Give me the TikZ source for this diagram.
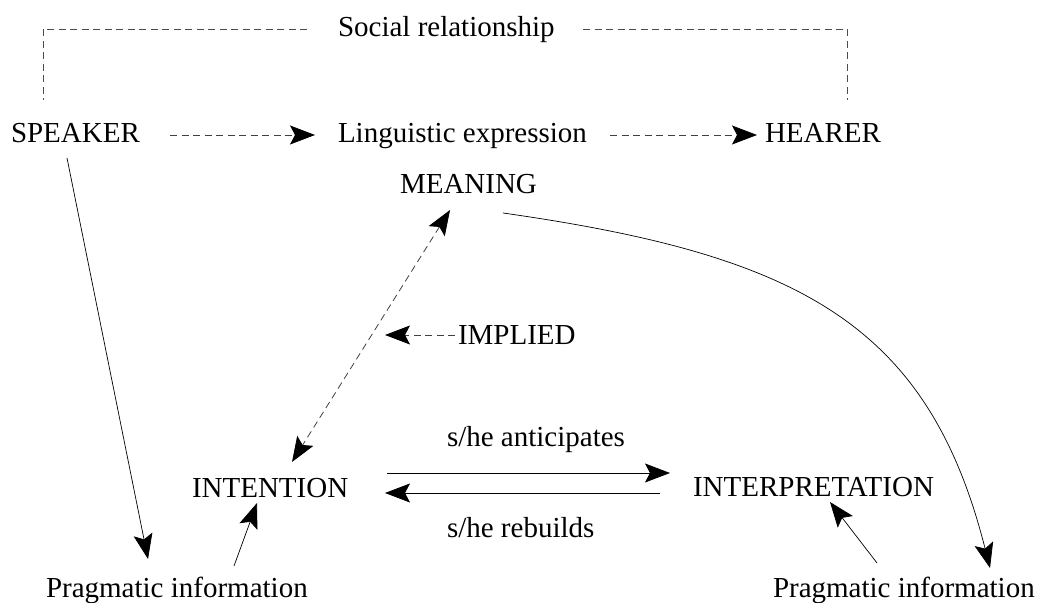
\documentclass[tikz,border=0pt]{standalone}
\usepackage{fontspec}
\setmainfont{Liberation Serif}
\usetikzlibrary{arrows.meta}
\begin{document}
\begin{tikzpicture}[x=1pt,y=1pt,
  lbl/.style={inner sep=0pt,outer sep=0pt,anchor=base west,font=\fontsize{29}{34}\selectfont},
  tipstyle/.style={-{Stealth[length=25pt,width=19pt,inset=5pt,color=black]}},
  arr/.style={tipstyle,line width=0.7pt,black},
  darr/.style={tipstyle,line width=0.8pt,black!75,dash pattern=on 7pt off 4.5pt},
  dline/.style={line width=0.8pt,black!70,dash pattern=on 7pt off 4.5pt},
  ddarr/.style={{Stealth[length=25pt,width=19pt,inset=5pt,color=black]}-{Stealth[length=25pt,width=19pt,inset=5pt,color=black]},line width=0.8pt,black!75,dash pattern=on 7pt off 4.5pt}]
\useasboundingbox (0,0) rectangle (1040,602);
% nodes
\node[lbl] (soc)   at (338,565) {Social relationship};
\node[lbl] (spk)   at (11,459)  {SPEAKER};
\node[lbl] (ling)  at (338,459) {Linguistic expression};
\node[lbl] (hear)  at (765,459) {HEARER};
\node[lbl] (mean)  at (400,408) {MEANING};
\node[lbl] (imp)   at (458,257) {IMPLIED};
\node[lbl] (ant)   at (447,155) {s/he anticipates};
\node[lbl] (intn)  at (192,104) {INTENTION};
\node[lbl] (intp)  at (693,105) {INTERPRETATION};
\node[lbl] (reb)   at (447,65)  {s/he rebuilds};
\node[lbl] (prag1) at (46,5)    {Pragmatic information};
\node[lbl] (prag2) at (773,5)   {Pragmatic information};
% social relationship bracket
\draw[dline] ([xshift=-31pt,yshift=8pt]soc.base west) -| ([xshift=32pt,yshift=43pt]spk.base west);
\draw[dline] ([xshift=245pt,yshift=8pt]soc.base west) -| ([xshift=82pt,yshift=43pt]hear.base west);
% top row dashed arrows
\draw[darr] ([xshift=159pt,yshift=8pt]spk.base west) -- ([xshift=-23pt,yshift=8pt]ling.base west);
\draw[darr] ([xshift=272pt,yshift=8pt]ling.base west) -- ([xshift=-8pt,yshift=8pt]hear.base west);
% meaning <-> intention
\draw[ddarr] ([xshift=50pt,yshift=-16pt]mean.base west) -- ([xshift=100pt,yshift=36pt]intn.base west);
% implied
\coordinate (impend) at ([xshift=-73pt,yshift=10pt]imp.base west);
\draw[darr] ([xshift=-3pt,yshift=10pt]imp.base west) -- (impend);
% curve meaning -> right pragmatic
\draw[arr] ([xshift=103pt,yshift=-19pt]mean.base west) .. controls +(295,-42) and +(-62,245) .. ([xshift=217pt,yshift=29pt]prag2.base west);
% anticipates / rebuilds
\draw[arr] ([xshift=195pt,yshift=25pt]intn.base west) -- ([xshift=-23pt,yshift=24pt]intp.base west);
\draw[arr] ([xshift=-33pt,yshift=4pt]intp.base west) -- ([xshift=193pt,yshift=5pt]intn.base west);
% speaker -> left pragmatic
\draw[arr] ([xshift=56pt,yshift=-15pt]spk.base west) -- ([xshift=102pt,yshift=38pt]prag1.base west);
% pragmatic -> intention / interpretation
\draw[arr] ([xshift=188pt,yshift=31pt]prag1.base west) -- ([xshift=65pt,yshift=-5pt]intn.base west);
\draw[arr] ([xshift=104pt,yshift=34pt]prag2.base west) -- ([xshift=137pt,yshift=-5pt]intp.base west);
\end{tikzpicture}
\end{document}
